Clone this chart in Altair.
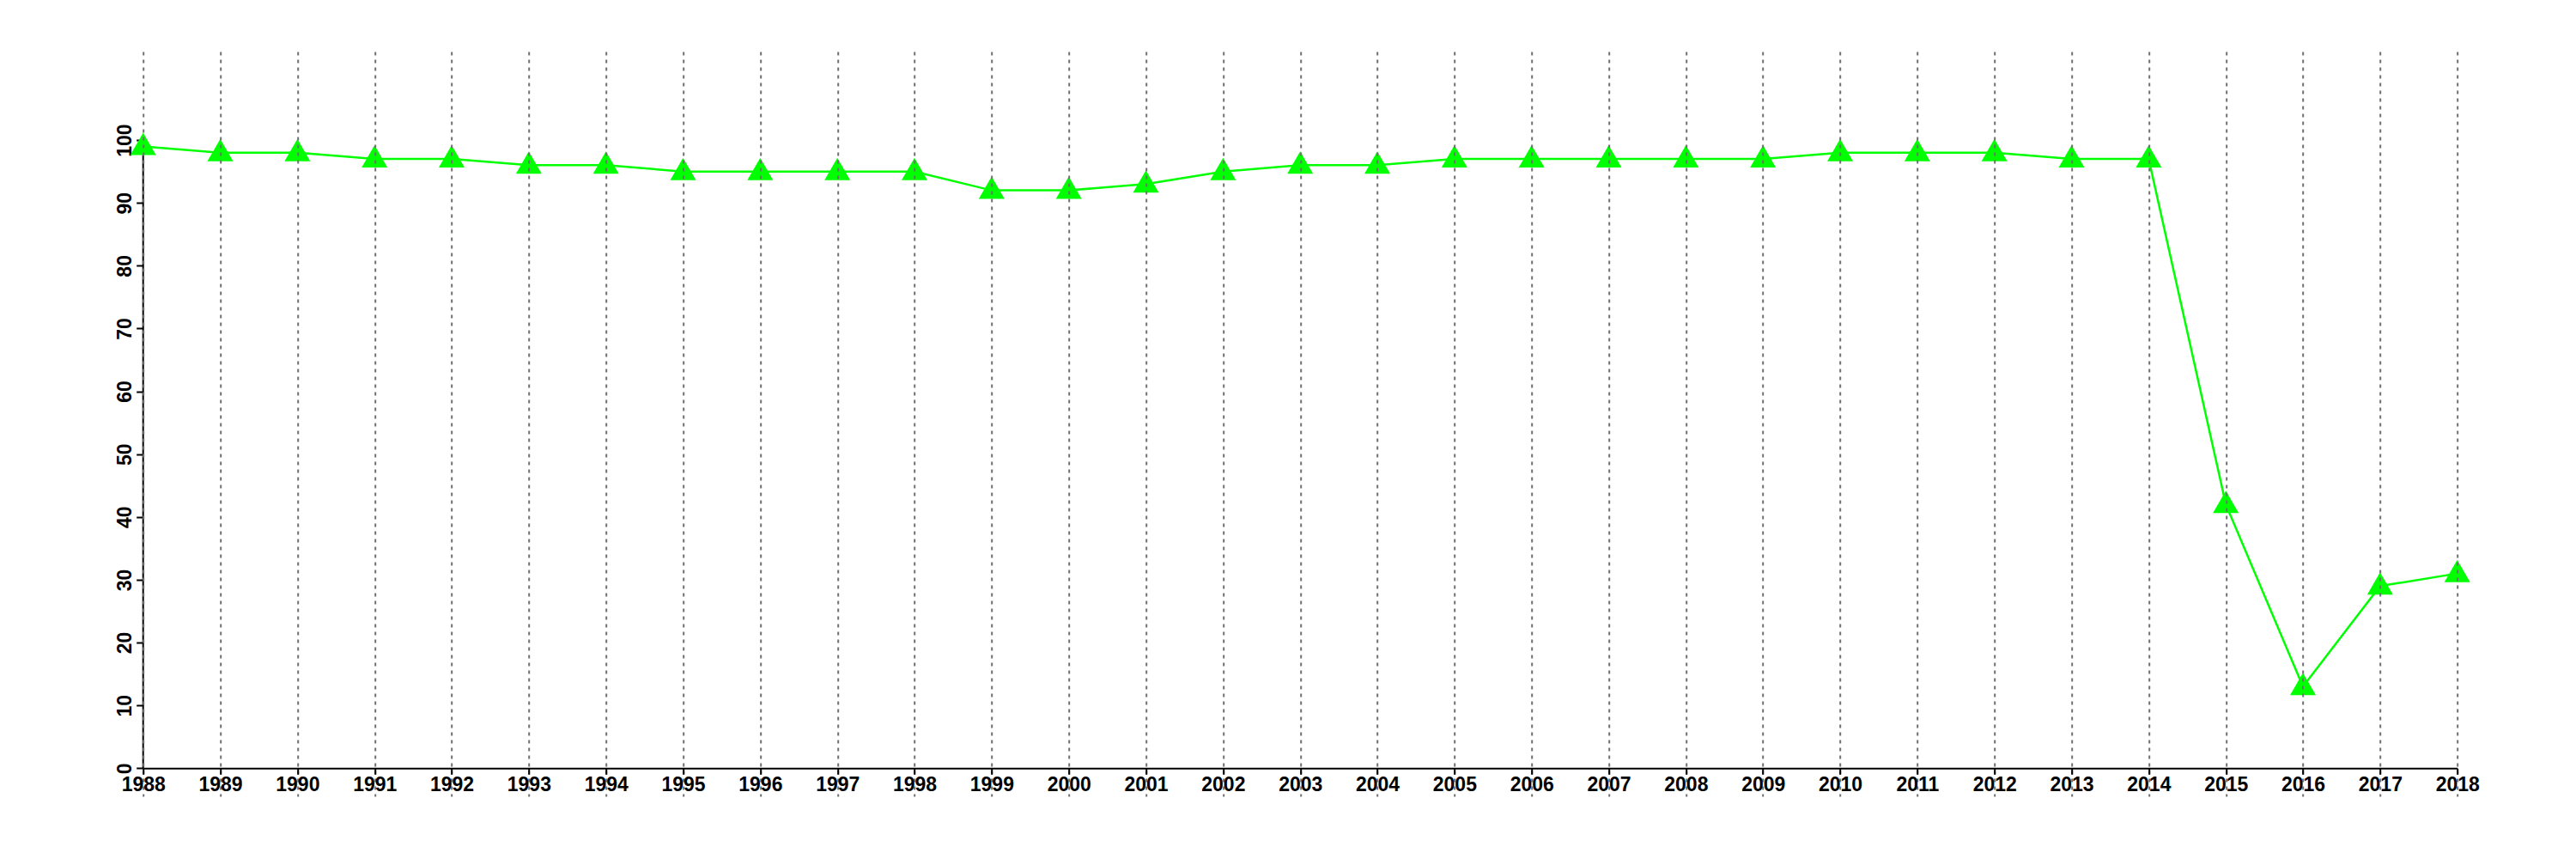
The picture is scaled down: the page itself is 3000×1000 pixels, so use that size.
import altair as alt
import pandas as pd

years = list(range(1988, 2019))
values = [99, 98, 98, 97, 97, 96, 96, 95, 95, 95, 95, 92, 92, 93, 95, 96, 96,
          97, 97, 97, 97, 97, 98, 98, 98, 97, 97, 42, 13, 29, 31]
y_ticks = [0, 10, 20, 30, 40, 50, 60, 70, 80, 90, 100]

df = pd.DataFrame({"year": years, "value": values})
axis_df = pd.DataFrame({"year": [years[0]], "value": [y_ticks[0]], "y1": [y_ticks[-1]]})

FONT = "Liberation Sans"
GREEN = "#00ff00"

xscale = alt.Scale(domain=[years[0], years[-1]], nice=False, zero=False)
yscale = alt.Scale(domain=[-4.47, 114.1], nice=False, zero=False)

x_axis = alt.Axis(
    values=years, format="d", title=None,
    grid=True, gridDash=[4, 5], gridColor="#707070", gridWidth=2,
    domainColor="black", domainWidth=2,
    tickColor="black", tickSize=7, tickWidth=2,
    labelFont=FONT, labelFontSize=23, labelFontWeight="bold", labelColor="black",
    labelPadding=1, labelOverlap=False, labelFlush=False,
    offset=-32.7, zindex=1,
)
y_axis = alt.Axis(
    values=y_ticks, title=None, domain=False, grid=False,
    tickColor="black", tickSize=8, tickWidth=2,
    labelFont=FONT, labelFontSize=23, labelFontWeight="bold", labelColor="black",
    labelAngle=-90, labelAlign="center", labelBaseline="alphabetic",
    labelPadding=6, labelOverlap=False, labelFlush=False,
)

X = alt.X("year:Q", scale=xscale, axis=x_axis)
Y = alt.Y("value:Q", scale=yscale, axis=y_axis)

base = alt.Chart(df)

line = base.mark_line(color=GREEN, strokeWidth=2.5).encode(x=X, y=Y)

points = base.mark_point(shape="triangle-up", filled=True, size=900,
                         color=GREEN, opacity=1, yOffset=-3).encode(x=X, y=Y)

yline = alt.Chart(axis_df).mark_rule(color="black", strokeWidth=2).encode(
    x=X, y=Y, y2="y1:Q",
)

chart = alt.layer(line, yline, points).properties(
    width=2695, height=867,
    autosize=alt.AutoSizeParams(type="none"),
    padding={"left": 158.7, "top": 52, "right": 120, "bottom": 60},
).configure_view(stroke=None)

chart.save("out.html", embed_options={"renderer": "svg", "actions": False})
